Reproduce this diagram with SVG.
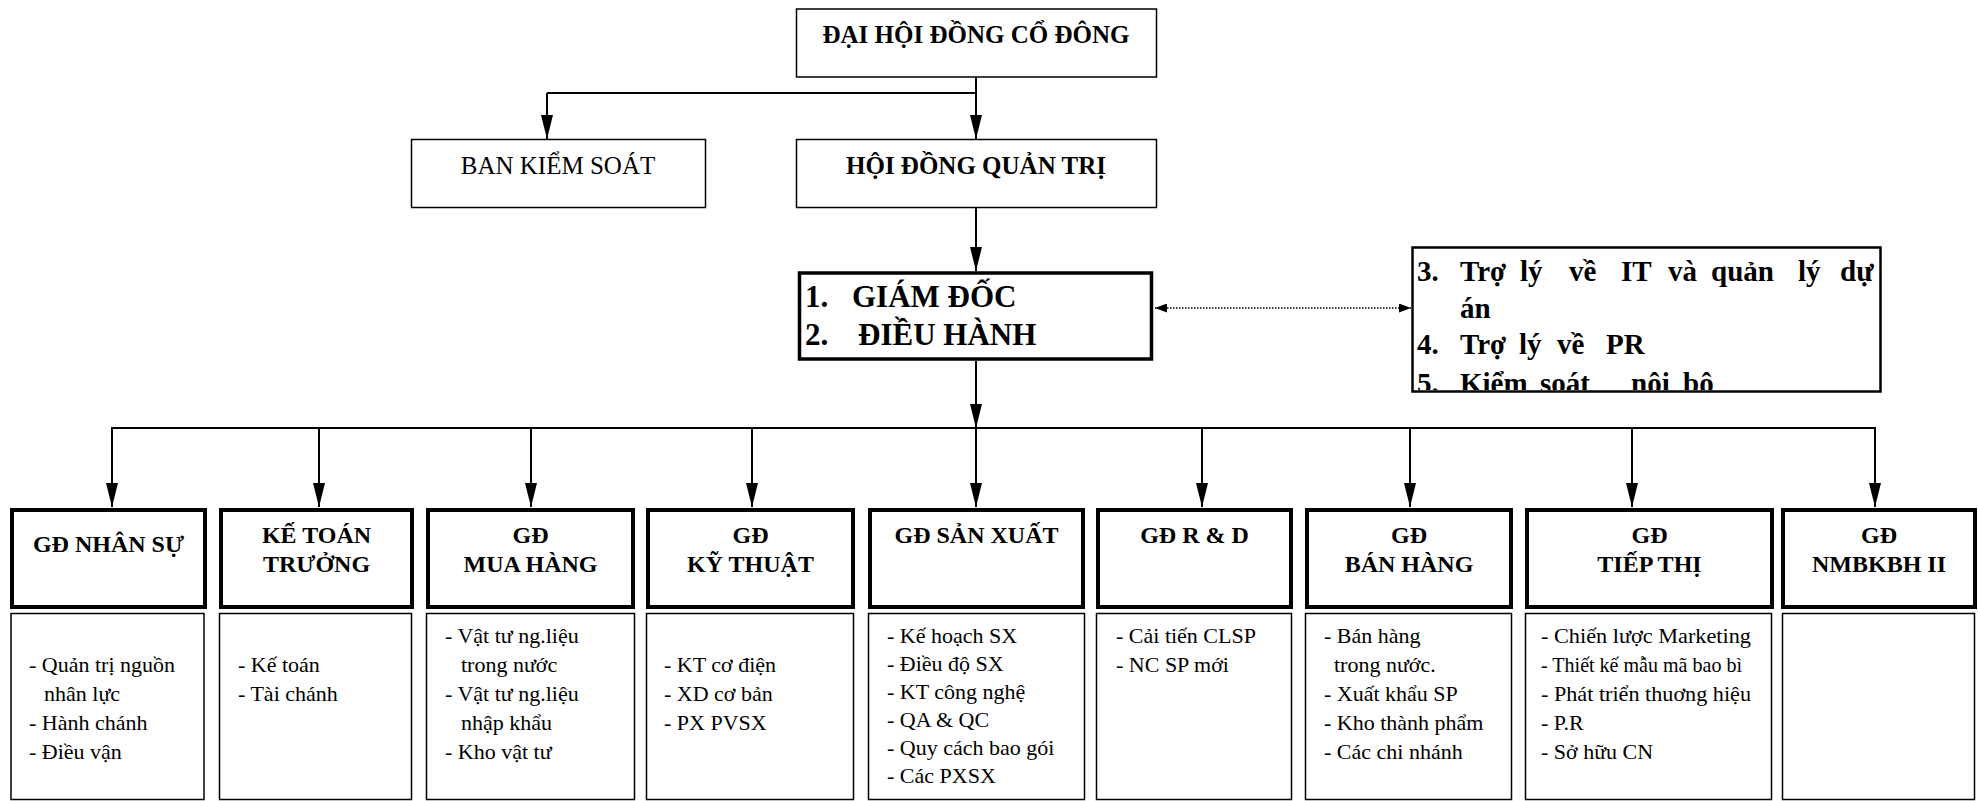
<svg xmlns="http://www.w3.org/2000/svg" width="1978" height="801" viewBox="0 0 1978 801">
<style>
  text { font-family: "Liberation Serif", "Times New Roman", serif; fill: #000; }
  .b { font-weight: bold; }
  .top { font-size: 25px; text-anchor: middle; }
  .hd { font-size: 24px; font-weight: bold; text-anchor: middle; }
  .it { font-size: 22px; }
  .gd { font-size: 31px; font-weight: bold; }
  .tl { font-size: 29px; font-weight: bold; }
  .box { fill: #fff; stroke: #000; stroke-width: 1.5; }
  .thick { fill: #fff; stroke: #000; stroke-width: 4; }
  .mid { fill: #fff; stroke: #000; stroke-width: 2.5; }
  .ln { fill: none; stroke: #000; stroke-width: 2; }
  .dot { fill: none; stroke: #000; stroke-width: 1.5; stroke-dasharray: 1.5 1.5; }
</style>
<defs>
  <marker id="ah" markerUnits="userSpaceOnUse" markerWidth="24" markerHeight="14" refX="24" refY="6" orient="auto">
    <path d="M0,0 L24,6 L0,12 z" fill="#000"/>
  </marker>
  <marker id="sh" markerUnits="userSpaceOnUse" markerWidth="12" markerHeight="10" refX="12" refY="4.5" orient="auto">
    <path d="M0,0 L12,4.5 L0,9 z" fill="#000"/>
  </marker>
  <marker id="shs" markerUnits="userSpaceOnUse" markerWidth="12" markerHeight="10" refX="0" refY="4.5" orient="auto">
    <path d="M12,0 L0,4.5 L12,9 z" fill="#000"/>
  </marker>
  <clipPath id="rclip"><rect x="1413" y="248" width="467" height="142"/></clipPath>
</defs>

<g id="connectors">
  <line class="ln" x1="976" y1="77" x2="976" y2="93"/>
  <line class="ln" x1="547" y1="93" x2="976" y2="93"/>
  <line class="ln" x1="547" y1="93" x2="547" y2="139" marker-end="url(#ah)"/>
  <line class="ln" x1="976" y1="93" x2="976" y2="139" marker-end="url(#ah)"/>
  <line class="ln" x1="976" y1="208" x2="976" y2="271" marker-end="url(#ah)"/>
  <line class="ln" x1="976" y1="361" x2="976" y2="428" marker-end="url(#ah)"/>
  <line class="dot" x1="1155" y1="308" x2="1411" y2="308" marker-start="url(#shs)" marker-end="url(#sh)"/>
  <line class="ln" x1="111" y1="428" x2="1876" y2="428"/>
  <line class="ln" x1="112" y1="428" x2="112" y2="507" marker-end="url(#ah)"/>
  <line class="ln" x1="319" y1="428" x2="319" y2="507" marker-end="url(#ah)"/>
  <line class="ln" x1="531" y1="428" x2="531" y2="507" marker-end="url(#ah)"/>
  <line class="ln" x1="752" y1="428" x2="752" y2="507" marker-end="url(#ah)"/>
  <line class="ln" x1="976" y1="428" x2="976" y2="507" marker-end="url(#ah)"/>
  <line class="ln" x1="1202" y1="428" x2="1202" y2="507" marker-end="url(#ah)"/>
  <line class="ln" x1="1410" y1="428" x2="1410" y2="507" marker-end="url(#ah)"/>
  <line class="ln" x1="1632" y1="428" x2="1632" y2="507" marker-end="url(#ah)"/>
  <line class="ln" x1="1875" y1="428" x2="1875" y2="507" marker-end="url(#ah)"/>
</g>

<g id="dhdcd">
  <rect class="box" x="796.5" y="9" width="360" height="68"/>
  <text class="top b" x="976" y="43">ĐẠI HỘI ĐỒNG CỔ ĐÔNG</text>
</g>
<g id="bks">
  <rect class="box" x="411.5" y="139.5" width="294" height="68"/>
  <text class="top" x="558" y="174">BAN KIỂM SOÁT</text>
</g>
<g id="hdqt">
  <rect class="box" x="796.5" y="139.5" width="360" height="68"/>
  <text class="top b" x="976" y="174">HỘI ĐỒNG QUẢN TRỊ</text>
</g>
<g id="giamdoc">
  <rect class="box" x="799.5" y="273" width="352" height="86" style="stroke-width:3.5"/>
  <text class="gd" x="805" y="307">1.</text>
  <text class="gd" x="852" y="307">GIÁM ĐỐC</text>
  <text class="gd" x="805" y="345">2.</text>
  <text class="gd" x="858" y="345">ĐIỀU HÀNH</text>
</g>
<g id="trogiup">
  <rect class="mid" x="1412.5" y="247.5" width="468" height="144"/>
  <g clip-path="url(#rclip)">
    <text class="tl" y="281"><tspan x="1417">3.</tspan><tspan x="1460">Trợ</tspan><tspan x="1520">lý</tspan><tspan x="1569">về</tspan><tspan x="1621">IT</tspan><tspan x="1668">và</tspan><tspan x="1711">quản</tspan><tspan x="1798">lý</tspan><tspan x="1840">dự</tspan></text>
    <text class="tl" x="1460" y="318">án</text>
    <text class="tl" y="354"><tspan x="1417">4.</tspan><tspan x="1460">Trợ</tspan><tspan x="1519">lý</tspan><tspan x="1557">về</tspan><tspan x="1606">PR</tspan></text>
    <text class="tl" y="393"><tspan x="1417">5.</tspan><tspan x="1460">Kiểm</tspan><tspan x="1540">soát</tspan><tspan x="1631">nội</tspan><tspan x="1683">bộ</tspan></text>
  </g>
</g>

<g id="nhansu">
  <rect class="thick" x="12" y="510" width="193" height="97"/>
  <rect class="box" x="11" y="613.5" width="193" height="186"/>
  <text class="hd" x="108.5" y="552">GĐ NHÂN SỰ</text>
  <text class="it" x="29" y="672">- Quản trị nguồn</text>
  <text class="it" x="44" y="701">nhân lực</text>
  <text class="it" x="29" y="730">- Hành chánh</text>
  <text class="it" x="29" y="759">- Điều vận</text>
</g>
<g id="ketoan">
  <rect class="thick" x="221" y="510" width="191" height="97"/>
  <rect class="box" x="219.5" y="613.5" width="192" height="186"/>
  <text class="hd" x="316.5" y="543">KẾ TOÁN</text>
  <text class="hd" x="316.5" y="572">TRƯỞNG</text>
  <text class="it" x="238" y="672">- Kế toán</text>
  <text class="it" x="238" y="701">- Tài chánh</text>
</g>
<g id="muahang">
  <rect class="thick" x="428" y="510" width="205" height="97"/>
  <rect class="box" x="426.5" y="613.5" width="208" height="186"/>
  <text class="hd" x="530.5" y="543">GĐ</text>
  <text class="hd" x="530.5" y="572">MUA HÀNG</text>
  <text class="it" x="445" y="643">- Vật tư ng.liệu</text>
  <text class="it" x="461" y="672">trong nước</text>
  <text class="it" x="445" y="701">- Vật tư ng.liệu</text>
  <text class="it" x="461" y="730">nhập khẩu</text>
  <text class="it" x="445" y="759">-  Kho vật tư</text>
</g>
<g id="kythuat">
  <rect class="thick" x="648" y="510" width="205" height="97"/>
  <rect class="box" x="646.5" y="613.5" width="207" height="186"/>
  <text class="hd" x="750.5" y="543">GĐ</text>
  <text class="hd" x="750.5" y="572">KỸ THUẬT</text>
  <text class="it" x="664" y="672">- KT cơ điện</text>
  <text class="it" x="664" y="701">- XD cơ bản</text>
  <text class="it" x="664" y="730">- PX PVSX</text>
</g>
<g id="sanxuat">
  <rect class="thick" x="870" y="510" width="213" height="97"/>
  <rect class="box" x="868.5" y="613.5" width="216" height="186"/>
  <text class="hd" x="976.5" y="543">GĐ SẢN XUẤT</text>
  <text class="it" x="887" y="643">- Kế hoạch SX</text>
  <text class="it" x="887" y="671">- Điều độ SX</text>
  <text class="it" x="887" y="699">- KT công nghệ</text>
  <text class="it" x="887" y="727">- QA &amp; QC</text>
  <text class="it" x="887" y="755">- Quy cách bao gói</text>
  <text class="it" x="887" y="783">- Các PXSX</text>
</g>
<g id="rnd">
  <rect class="thick" x="1098" y="510" width="193" height="97"/>
  <rect class="box" x="1096.5" y="613.5" width="195" height="186"/>
  <text class="hd" x="1194.5" y="543">GĐ R &amp; D</text>
  <text class="it" x="1116" y="643">- Cải tiến CLSP</text>
  <text class="it" x="1116" y="672">- NC SP mới</text>
</g>
<g id="banhang">
  <rect class="thick" x="1307" y="510" width="204" height="97"/>
  <rect class="box" x="1305.5" y="613.5" width="206" height="186"/>
  <text class="hd" x="1409" y="543">GĐ</text>
  <text class="hd" x="1409" y="572">BÁN HÀNG</text>
  <text class="it" x="1324" y="643">- Bán hàng</text>
  <text class="it" x="1334" y="672">trong nước.</text>
  <text class="it" x="1324" y="701">- Xuất khẩu SP</text>
  <text class="it" x="1324" y="730">- Kho thành phẩm</text>
  <text class="it" x="1324" y="759">- Các chi nhánh</text>
</g>
<g id="tiepthi">
  <rect class="thick" x="1527" y="510" width="245" height="97"/>
  <rect class="box" x="1525.5" y="613.5" width="246" height="186"/>
  <text class="hd" x="1649.5" y="543">GĐ</text>
  <text class="hd" x="1649.5" y="572">TIẾP THỊ</text>
  <text class="it" x="1541" y="643" textLength="210" lengthAdjust="spacingAndGlyphs">- Chiến lược Marketing</text>
  <text class="it" x="1541" y="672" textLength="201" lengthAdjust="spacingAndGlyphs">- Thiết kế mẫu mã bao bì</text>
  <text class="it" x="1541" y="701" textLength="210" lengthAdjust="spacingAndGlyphs">- Phát triển thuơng hiệu</text>
  <text class="it" x="1541" y="730">- P.R</text>
  <text class="it" x="1541" y="759">- Sở hữu CN</text>
</g>
<g id="nmbkbh">
  <rect class="thick" x="1783" y="510" width="192" height="97"/>
  <rect class="box" x="1782.5" y="613.5" width="192" height="186"/>
  <text class="hd" x="1879" y="543">GĐ</text>
  <text class="hd" x="1879" y="572">NMBKBH II</text>
</g>
</svg>
